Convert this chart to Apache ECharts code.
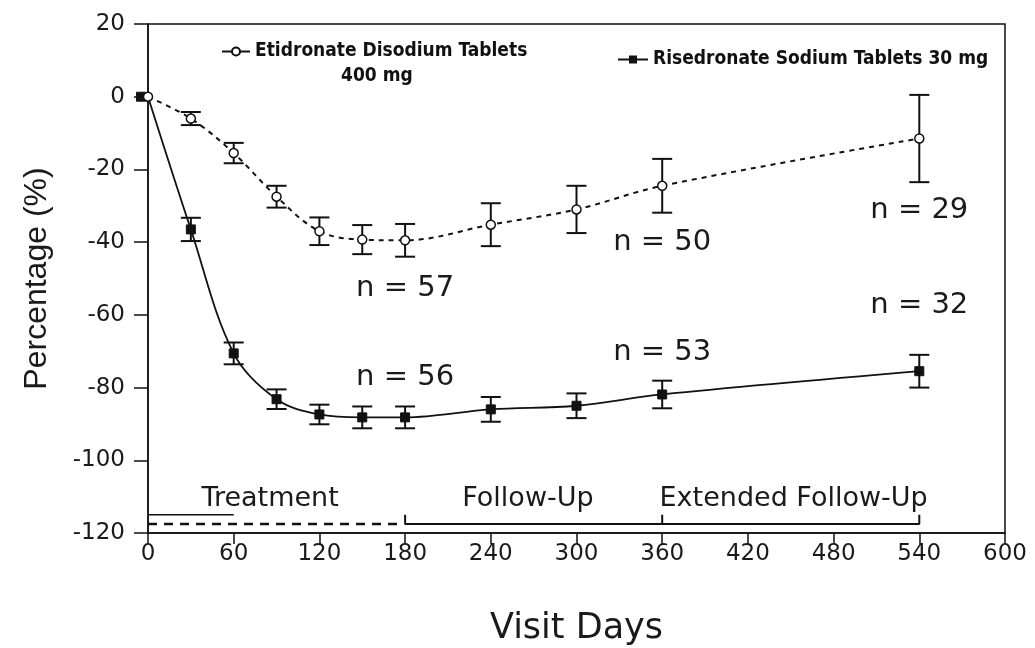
<!DOCTYPE html>
<html><head><meta charset="utf-8">
<script src="https://cdn.jsdelivr.net/npm/echarts@6/dist/echarts.min.js"></script>
<style>html,body{margin:0;padding:0;background:#fff}#c{width:1035px;height:648px}</style>
</head><body><div id="c"></div>
<script>
// ---- data ----
const days = [0, 30, 60, 90, 120, 150, 180, 240, 300, 360, 540];
const etidronate = [0, -6, -15.5, -27.5, -37, -39.3, -39.5, -35.2, -31, -24.5, -11.5];
const etidronateErr = [0, 1.8, 2.8, 3, 3.8, 4, 4.5, 5.9, 6.5, 7.4, 12];
const risedronate = [0, -36.5, -70.6, -83.2, -87.4, -88.2, -88.2, -86, -85, -81.9, -75.5];
const risedronateErr = [0, 3.2, 3, 2.7, 2.7, 3, 3, 3.4, 3.4, 3.8, 4.5];
const nLabelDays = [180, 180, 360, 360, 540, 540];
const nLabelVals = [-52.7, -77.2, -40.1, -70.3, -31.3, -57.4];
const nLabelText = ['n = 57', 'n = 56', 'n = 50', 'n = 53', 'n = 29', 'n = 32'];
const phaseNames = ['Treatment', 'Follow-Up', 'Extended Follow-Up'];
const phaseLabelDays = [85.5, 266, 452];
const phaseLabelVal = -110.7;
const treatmentSolid = [[0, -115], [60, -115]];
const treatmentDashed = [[0, -117.5], [177, -117.5]];
const followUpLine = [[180, -115], [180, -117.5], [360, -117.5], [360, -115], [360, -117.5], [540, -117.5], [540, -115]];
const xTicks = [0, 600, 60];
const yTicks = [-120, 20, 20];

const ETI = 'Etidronate Disodium Tablets';
const RIS = 'Risedronate Sodium Tablets 30 mg';
const INK = '#111';
const TXT = '#1a1a1a';
const WIDE = '"DejaVu Sans", "Liberation Sans", sans-serif';
const SANS = '"Liberation Sans", Arial, sans-serif';
const NARROW = '"Liberation Sans Narrow", "DejaVu Sans Condensed", "Liberation Sans", sans-serif';

function errData(vals, errs) {
  return days.map((d, i) => [d, vals[i] - errs[i], vals[i] + errs[i]]).filter((r, i) => errs[i] > 0);
}
function errRender(params, api) {
  const x = api.value(0), lo = api.value(1), hi = api.value(2);
  const p1 = api.coord([x, hi]), p2 = api.coord([x, lo]);
  const w = 10;
  const st = { stroke: INK, lineWidth: 2 };
  return { type: 'group', children: [
    { type: 'line', shape: { x1: p1[0], y1: p1[1], x2: p2[0], y2: p2[1] }, style: st },
    { type: 'line', shape: { x1: p1[0] - w, y1: p1[1], x2: p1[0] + w, y2: p1[1] }, style: st },
    { type: 'line', shape: { x1: p2[0] - w, y1: p2[1], x2: p2[0] + w, y2: p2[1] }, style: st }
  ]};
}

const chart = echarts.init(document.getElementById('c'), null, { renderer: 'canvas' });
const option = {
  backgroundColor: '#fff',
  animation: false,
  grid: { left: 148, right: 30, top: 24, bottom: 115, show: true, borderColor: INK, borderWidth: 1.5,
          containLabel: false, outerBoundsMode: 'none' },
  legend: [
    { data: [ETI], left: 216, top: 37, itemWidth: 28, itemHeight: 10, itemGap: 6,
      lineStyle: { type: 'solid' },
      textStyle: { fontFamily: NARROW, fontWeight: 'bold', fontSize: 19, color: INK } },
    { data: [RIS], left: 612, top: 45, itemWidth: 30, itemHeight: 10,
      textStyle: { fontFamily: NARROW, fontWeight: 'bold', fontSize: 19, color: INK } }
  ],
  graphic: [
    { type: 'text', left: 341, top: 67, style: { text: '400 mg', font: 'bold 19px ' + NARROW, fill: INK } }
  ],
  xAxis: {
    type: 'value', min: xTicks[0], max: xTicks[1], interval: xTicks[2],
    name: 'Visit Days', nameLocation: 'middle', nameGap: 78,
    nameTextStyle: { fontFamily: WIDE, fontSize: 35, color: TXT },
    axisLine: { onZero: false, lineStyle: { color: INK, width: 1.5 } },
    axisTick: { length: 11, lineStyle: { color: INK, width: 1.5 } },
    axisLabel: { fontFamily: WIDE, fontSize: 23, color: TXT, margin: 10 },
    splitLine: { show: false }
  },
  yAxis: {
    type: 'value', min: yTicks[0], max: yTicks[1], interval: yTicks[2],
    name: 'Percentage (%)', nameLocation: 'middle', nameGap: 95,
    nameTextStyle: { fontFamily: SANS, fontSize: 32, color: TXT },
    axisLine: { onZero: false, lineStyle: { color: INK, width: 1.5 } },
    axisTick: { length: 14, lineStyle: { color: INK, width: 1.5 } },
    axisLabel: { fontFamily: WIDE, fontSize: 23, color: TXT, margin: 23 },
    splitLine: { show: false }
  },
  series: [
    { name: RIS, type: 'line', smooth: 0.35, z: 3,
      data: days.map((d, i) => i === 0 ? { value: [d, risedronate[i]], symbolOffset: [-7, 0] } : [d, risedronate[i]]),
      symbol: 'rect', symbolSize: 9, itemStyle: { color: INK, borderColor: INK },
      lineStyle: { color: INK, width: 1.8 } },
    { name: ETI, type: 'line', smooth: 0.35, z: 4,
      data: days.map((d, i) => [d, etidronate[i]]),
      symbol: 'circle', symbolSize: 9, showAllSymbol: true,
      itemStyle: { color: '#fff', borderColor: INK, borderWidth: 1.5 },
      lineStyle: { color: INK, width: 2, type: [5, 5] } },
    { name: 'risErr', type: 'custom', renderItem: errRender, data: errData(risedronate, risedronateErr), z: 2, silent: true },
    { name: 'etiErr', type: 'custom', renderItem: errRender, data: errData(etidronate, etidronateErr), z: 2, silent: true },
    { name: 'nLabels', type: 'scatter', symbolSize: 0, silent: true, itemStyle: { opacity: 1 },
      data: nLabelDays.map((d, i) => ({ value: [d, nLabelVals[i]], name: nLabelText[i] })),
      label: { show: true, position: 'inside', opacity: 1, formatter: p => p.name, fontFamily: WIDE, fontSize: 29, color: TXT } },
    { name: 'phases', type: 'scatter', symbolSize: 0, silent: true, itemStyle: { opacity: 1 },
      data: phaseLabelDays.map((d, i) => ({ value: [d, phaseLabelVal], name: phaseNames[i] })),
      label: { show: true, position: 'inside', opacity: 1, formatter: p => p.name, fontFamily: WIDE, fontSize: 27, color: TXT } },
    { name: 'treatSolid', type: 'line', data: treatmentSolid, symbol: 'none', silent: true,
      lineStyle: { color: INK, width: 1.5 } },
    { name: 'treatDash', type: 'line', data: treatmentDashed, symbol: 'none', silent: true,
      lineStyle: { color: INK, width: 2.5, type: [9, 7] } },
    { name: 'follow', type: 'line', data: followUpLine, symbol: 'none', silent: true,
      lineStyle: { color: INK, width: 2 } }
  ]
};
chart.setOption(option);
</script>
</body></html>
